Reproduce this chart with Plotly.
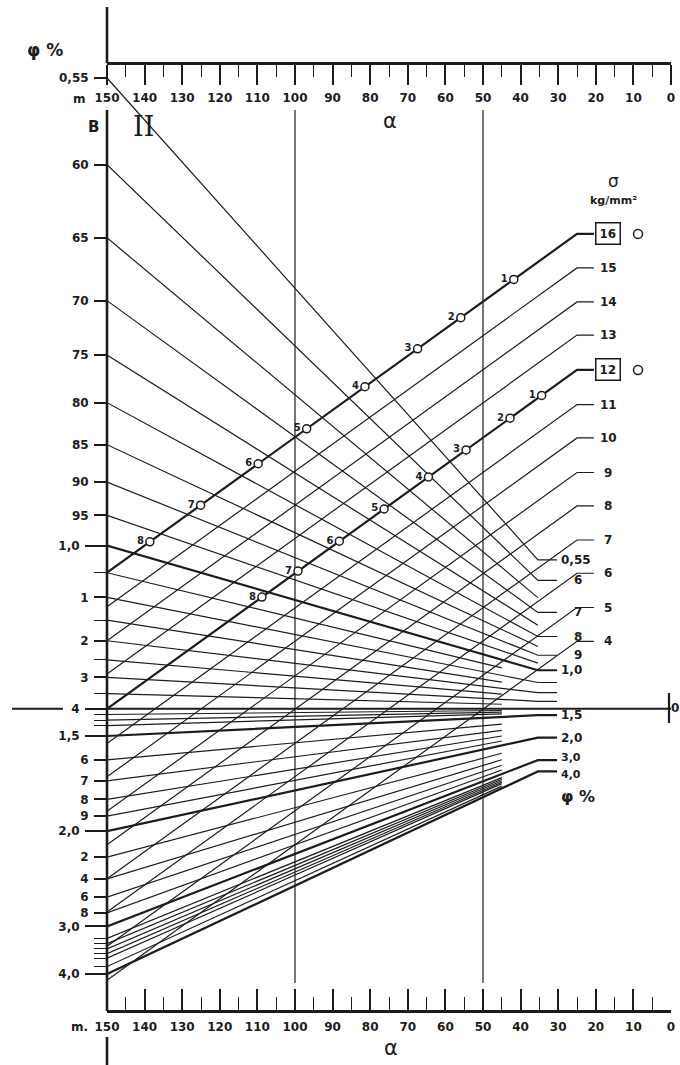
import plotly.graph_objects as go

# ---------------- data ----------------
# α scale (top and bottom)
alpha_major = [150, 140, 130, 120, 110, 100, 90, 80, 70, 60, 50, 40, 30, 20, 10, 0]
alpha_major_text = ["150", "140", "130", "120", "110", "100", "90", "80", "70", "60",
                    "50", "40", "30", "20", "10", "0"]
alpha_minor = [145, 135, 125, 115, 105, 95, 85, 75, 65, 55, 45, 35, 25, 15, 5]
alpha_guides = [100, 50]

# φ % scale on axis B (reciprocal scale)
phi_ticks = [0.55, 0.60, 0.65, 0.70, 0.75, 0.80, 0.85, 0.90, 0.95,
             1.1, 1.2, 1.3, 1.6, 1.7, 1.8, 1.9, 2.2, 2.4, 2.6, 2.8]
phi_tick_text = ["0,55", "60", "65", "70", "75", "80", "85", "90", "95",
                 "1", "2", "3", "6", "7", "8", "9", "2", "4", "6", "8"]
phi_main = [1.0, 1.4, 1.5, 2.0, 3.0, 4.0]
phi_main_text = ["1,0", "4", "1,5", "2,0", "3,0", "4,0"]
phi_minor = [1.05, 1.15, 1.25, 1.35, 1.42, 1.44, 1.46, 3.2, 3.3, 3.4, 3.5, 3.6, 3.8]

# φ lines (all meet at the pole α = 0, φ = 1.4)
phi_pole = 1.4
phi_long = [0.55, 0.6, 0.7, 0.8, 0.9, 1.0, 1.1, 1.2, 1.3, 1.5, 2.0, 3.0, 4.0]
phi_mid = [0.65, 0.75, 0.85, 0.95]
phi_short = [1.05, 1.15, 1.25, 1.35, 1.42, 1.44, 1.46, 1.6, 1.7, 1.8, 1.9,
             2.2, 2.4, 2.6, 2.8, 3.2, 3.3, 3.4, 3.5, 3.6, 3.8]
phi_bold = [1.0, 1.5, 2.0, 3.0, 4.0]
phi_right_label_vals = [0.55, 0.6, 0.7, 0.8, 0.9, 1.0, 1.5, 2.0, 3.0, 4.0]
phi_right_label_text = ["0,55", "6", "7", "8", "9", "1,0", "1,5", "2,0", "3,0", "4,0"]

# σ lines (kg/mm²): intercept on axis B at α = 150 (read as φ), common rise
sigma_values = [16, 15, 14, 13, 12, 11, 10, 9, 8, 7, 6, 5, 4]
sigma_left_phi = [1.05, 1.12, 1.20, 1.29, 1.40, 1.53, 1.68, 1.87, 2.10, 2.40, 2.79, 3.35, 4.18]
sigma_rise = 0.593          # rise in 1/φ between α = 150 and α = 25
sigma_boxed = [16, 12]
sigma_bold = [16, 12]

# numbered specimens on the σ = 16 and σ = 12 lines (α values)
spec_labels = ["1", "2", "3", "4", "5", "6", "7", "8"]
spec_alpha_16 = [41.8, 55.9, 67.4, 81.4, 96.9, 109.8, 125.1, 138.6]
spec_alpha_12 = [34.4, 42.8, 54.5, 64.5, 76.3, 88.2, 99.2, 108.8]

# ---------------- geometry / styling ----------------
W, H = 680, 1065
INK = "#1c1c1c"
FONT = "DejaVu Sans"
PX_A150, PX_A0 = 107, 671          # pixel x of α = 150 and α = 0
PY_REF, U_REF, PX_PER_U = 78, 1 / 0.55, 571.4
U_TOP = U_REF + PY_REF / PX_PER_U
U_BOT = U_REF - (H - PY_REF) / PX_PER_U

A_END, A_STUB, A_SHORT = 35.4, 30.3, 45.0
S_END, S_STUB = 25.0, 20.5


def pu(py):   # pixel row -> 1/φ (layout placement)
    return U_REF - (py - PY_REF) / PX_PER_U


def pa(px):   # pixel column -> α (layout placement)
    return 150 - (px - PX_A150) * 150 / (PX_A0 - PX_A150)


def fx(px):
    return px / W


def fy(py):
    return 1 - py / H


u_pole = 1 / phi_pole


def phi_u(phi, a):
    return u_pole + (1 / phi - u_pole) * a / 150


def sig_u(phil, a):
    return 1 / phil + sigma_rise * (150 - a) / (150 - S_END)


def add_path(xs, ys, pts):
    for a, u in pts:
        xs.append(a)
        ys.append(u)
    xs.append(None)
    ys.append(None)


fig = go.Figure()

# φ lines
thin_x, thin_y, bold_x, bold_y = [], [], [], []
for phi in phi_long + phi_mid + phi_short:
    u0 = phi_u(phi, 150)
    if phi in phi_long:
        ue = phi_u(phi, A_END)
        pts = [(150, u0), (A_END, ue), (A_STUB, ue)]
    elif phi in phi_mid:
        pts = [(150, u0), (A_END, phi_u(phi, A_END))]
    else:
        pts = [(150, u0), (A_SHORT, phi_u(phi, A_SHORT))]
    if phi in phi_bold:
        add_path(bold_x, bold_y, pts)
    else:
        add_path(thin_x, thin_y, pts)

# σ lines
for s, pl in zip(sigma_values, sigma_left_phi):
    ue = sig_u(pl, S_END)
    pts = [(150, sig_u(pl, 150)), (S_END, ue), (S_STUB, ue)]
    if s in sigma_bold:
        add_path(bold_x, bold_y, pts)
    else:
        add_path(thin_x, thin_y, pts)

# α guide lines
for a in alpha_guides:
    add_path(thin_x, thin_y, [(a, pu(110)), (a, pu(983))])

fig.add_trace(go.Scatter(x=thin_x, y=thin_y, mode="lines",
                         line=dict(color=INK, width=1.2), hoverinfo="skip", showlegend=False))
fig.add_trace(go.Scatter(x=bold_x, y=bold_y, mode="lines",
                         line=dict(color=INK, width=2.2), hoverinfo="skip", showlegend=False))
# pole line φ = 1.4
fig.add_trace(go.Scatter(x=[150, 0], y=[u_pole, u_pole], mode="lines",
                         line=dict(color=INK, width=1.8), hoverinfo="skip", showlegend=False))

# specimens
pl16 = sigma_left_phi[sigma_values.index(16)]
pl12 = sigma_left_phi[sigma_values.index(12)]
for alist, pl in ((spec_alpha_16, pl16), (spec_alpha_12, pl12)):
    fig.add_trace(go.Scatter(
        x=alist, y=[sig_u(pl, a) for a in alist], mode="markers+text",
        text=spec_labels, textposition="middle left",
        textfont=dict(family=FONT, size=10, color=INK, weight="bold"),
        marker=dict(symbol="circle", size=8, color="white", line=dict(color=INK, width=1.5)),
        cliponaxis=False, hoverinfo="skip", showlegend=False))

# open circles beside the boxed σ labels
fig.add_trace(go.Scatter(
    x=[pa(638)] * len(sigma_boxed),
    y=[sig_u(sigma_left_phi[sigma_values.index(s)], S_END) for s in sigma_boxed],
    mode="markers", marker=dict(symbol="circle-open", size=9, color=INK, line=dict(width=1.5)),
    cliponaxis=False, hoverinfo="skip", showlegend=False))

# dummy traces so the overlaying axes are drawn
fig.add_trace(go.Scatter(x=[75], y=[1.0], xaxis="x2", mode="markers",
                         marker=dict(opacity=0), hoverinfo="skip", showlegend=False))
fig.add_trace(go.Scatter(x=[75], y=[1.0], yaxis="y2", mode="markers",
                         marker=dict(opacity=0), hoverinfo="skip", showlegend=False))

TF = dict(family=FONT, size=12, color=INK, weight="bold")
annotations = []


def ann(text, x, y, xref="paper", yref="paper", size=12, xanchor="center", weight="bold",
        family=FONT, **kw):
    annotations.append(dict(text=text, x=x, y=y, xref=xref, yref=yref, showarrow=False,
                            xanchor=xanchor, yanchor="middle",
                            font=dict(family=family, size=size, color=INK, weight=weight), **kw))


# right-hand φ labels (3,0 and 4,0 are nudged apart as in the original lettering)
label_shift = {3.0: 3, 4.0: -3}
for v, t in zip(phi_right_label_vals, phi_right_label_text):
    px = 560 if len(t) > 1 else 573
    ann(t, pa(px), phi_u(v, A_END), xref="x", yref="y", xanchor="left",
        size=11 if v in label_shift else 12, yshift=label_shift.get(v, 0), borderpad=0)

# σ labels
for s, pl in zip(sigma_values, sigma_left_phi):
    if s in sigma_boxed:
        ann(str(s), pa(608), sig_u(pl, S_END), xref="x", yref="y",
            bordercolor=INK, borderwidth=1.5, borderpad=3, bgcolor="white")
    else:
        ann(str(s), pa(608), sig_u(pl, S_END), xref="x", yref="y")

# titles and marks
ann("φ %", fx(45), fy(50), size=17)
ann("B", fx(93), fy(127), size=15)
ann("II", fx(143), fy(127), size=27, family="DejaVu Serif", weight="normal")
ann("α", fx(390), fy(121), size=21, weight="normal")
ann("α", fx(391), fy(1048), size=21, weight="normal")
ann("m", fx(79), fy(99), size=12)
ann("m.", fx(79), fy(1027), size=12)
ann("σ", fx(613), fy(181), size=17, weight="normal")
ann("kg/mm²", fx(613), fy(200), size=11)
ann("φ %", fx(578), fy(796), size=16)
ann("0", fx(675), fy(708), size=12)

shapes = [
    # axis B line (with gaps for the α labels)
    dict(type="line", xref="paper", yref="paper", x0=fx(PX_A150), x1=fx(PX_A150),
         y0=fy(7), y1=fy(63), line=dict(color=INK, width=2.6)),
    dict(type="line", xref="paper", yref="paper", x0=fx(PX_A150), x1=fx(PX_A150),
         y0=fy(110), y1=fy(1011), line=dict(color=INK, width=2.6)),
    dict(type="line", xref="paper", yref="paper", x0=fx(PX_A150), x1=fx(PX_A150),
         y0=fy(1037), y1=fy(H), line=dict(color=INK, width=2.6)),
    # left continuation of the pole line
    dict(type="line", xref="paper", yref="y", x0=fx(12), x1=fx(63),
         y0=u_pole, y1=u_pole, line=dict(color=INK, width=1.8)),
    # pole bar at α = 0
    dict(type="line", xref="paper", yref="y", x0=fx(669), x1=fx(669),
         y0=pu(693), y1=pu(723), line=dict(color=INK, width=2.2)),
]

axis_common = dict(showgrid=False, zeroline=False, fixedrange=True, automargin=False,
                   tickcolor=INK, tickfont=TF)

fig.update_layout(
    width=W, height=H, autosize=False, template="none",
    margin=dict(l=0, r=0, t=0, b=0, pad=0),
    paper_bgcolor="white", plot_bgcolor="white",
    font=dict(family=FONT, color=INK),
    showlegend=False,
    xaxis=dict(domain=[fx(PX_A150), fx(PX_A0)], range=[150, 0], anchor="free",
               position=fy(63), side="bottom", showline=True, linewidth=2.6, linecolor=INK,
               ticks="outside", ticklen=20, tickwidth=1.6, ticklabelstandoff=3,
               tickmode="array", tickvals=alpha_major, ticktext=alpha_major_text,
               minor=dict(tickmode="array", tickvals=alpha_minor, ticks="outside",
                          ticklen=12, tickwidth=1.4, tickcolor=INK, showgrid=False),
               **axis_common),
    xaxis2=dict(overlaying="x", range=[150, 0], anchor="free", position=fy(1011),
                side="bottom", showline=True, linewidth=2.6, linecolor=INK,
                ticks="inside", ticklen=21, tickwidth=1.6, ticklabelstandoff=4,
                tickmode="array", tickvals=alpha_major, ticktext=alpha_major_text,
                minor=dict(tickmode="array", tickvals=alpha_minor, ticks="inside",
                           ticklen=13, tickwidth=1.4, tickcolor=INK, showgrid=False),
                **axis_common),
    yaxis=dict(domain=[0, 1], range=[U_BOT, U_TOP], anchor="x", side="left",
               showline=False, ticks="outside", ticklen=12, tickwidth=1.5, ticklabelstandoff=3,
               tickmode="array", tickvals=[1 / p for p in phi_ticks], ticktext=phi_tick_text,
               minor=dict(tickmode="array", tickvals=[1 / p for p in phi_minor], ticks="outside",
                          ticklen=12, tickwidth=1.3, tickcolor=INK, showgrid=False),
               **axis_common),
    yaxis2=dict(overlaying="y", range=[U_BOT, U_TOP], anchor="x", side="left",
                showline=False, ticks="outside", ticklen=21, tickwidth=1.8, ticklabelstandoff=3,
                tickmode="array", tickvals=[1 / p for p in phi_main], ticktext=phi_main_text,
                **axis_common),
    annotations=annotations,
    shapes=shapes,
)

fig.write_html("out.html", include_plotlyjs=True, full_html=True,
               config={"displayModeBar": False},
               post_script="document.body.style.margin='0';")
